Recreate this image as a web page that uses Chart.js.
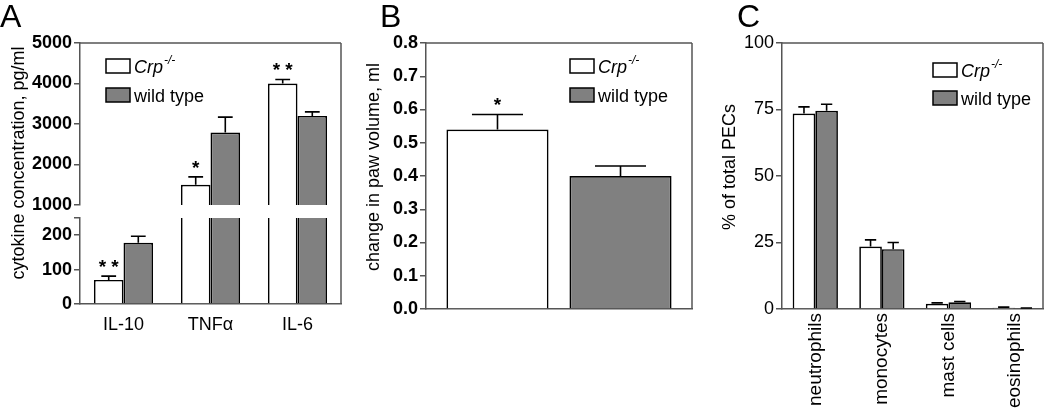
<!DOCTYPE html>
<html>
<head>
<meta charset="utf-8">
<script src="https://cdn.jsdelivr.net/npm/chart.js@4/dist/chart.umd.min.js"></script>
<style>
  body { margin: 0; background: #fff; }
  #wrap { position: relative; width: 1050px; height: 412px; overflow: hidden; background: #fff; }
  canvas { position: absolute; top: 0; }
  .letter { position: absolute; top: 0; font: 32px 'Liberation Sans', Arial, sans-serif; line-height: 1; }
</style>
</head>
<body>
<div id="wrap">
  <canvas id="aTop" width="350" height="412" style="left:0"></canvas>
  <canvas id="aLow" width="350" height="412" style="left:0"></canvas>
  <canvas id="paw" width="350" height="412" style="left:350px"></canvas>
  <canvas id="cells" width="350" height="412" style="left:700px"></canvas>
  <div class="letter" style="left:0">A</div>
  <div class="letter" style="left:380px">B</div>
  <div class="letter" style="left:737px">C</div>
</div>
<script>
// panel A - cytokines (broken axis)
const cytokines = ['IL-10', 'TNFα', 'IL-6'];
const cytoCrp = [70, 1500, 4000];
const cytoCrpErr = [11, 195, 100];
const cytoWt = [178, 2790, 3200];
const cytoWtErr = [19, 380, 100];
const cytoSig = ['**', '*', '**'];
const cytoHighTicks = [1000, 2000, 3000, 4000, 5000];
const cytoLowTicks = [0, 100, 200, 250];
const cytoLowLabels = ['0', '100', '200', ''];

// panel B - paw volume
const pawCrp = [0.54];
const pawCrpErr = [0.045];
const pawWt = [0.40];
const pawWtErr = [0.03];
const pawSig = ['*'];
const pawTicks = [0, 0.1, 0.2, 0.3, 0.4, 0.5, 0.6, 0.7, 0.8];

// panel C - peritoneal cells
const cellTypes = ['neutrophils', 'monocytes', 'mast cells', 'eosinophils'];
const cellPos = [0, 1, 2, 3];
const cellCrp = [73.5, 23.5, 2.0, 0.5];
const cellCrpErr = [2.5, 2.5, 0.3, 0.2];
const cellWt = [74.5, 22.5, 2.5, 0.3];
const cellWtErr = [2.5, 2.5, 0.3, 0.1];
const cellTicks = [0, 25, 50, 75, 100];

const genotypes = ['Crp', 'wild type'];
const genotypeSup = ['-/-', ''];
const fills = ['#ffffff', '#808080'];

const FONT = "'Liberation Sans', Arial, sans-serif";
Chart.defaults.font.family = FONT;
Chart.defaults.color = '#000';
const AXIS = '#555';

// frame, error bars, stars, legend, y title
const decor = {
  id: 'decor',
  afterDatasetsDraw(chart, args, o) {
    const { ctx, chartArea: a } = chart;
    const yScale = chart.scales.y;
    ctx.save();
    ctx.strokeStyle = AXIS;
    ctx.lineWidth = 1.5;
    ctx.beginPath();
    if (o.frameTop) { ctx.moveTo(a.left, a.top); ctx.lineTo(a.right, a.top); }
    ctx.moveTo(a.right, a.top - (o.frameExtend || 0));
    ctx.lineTo(a.right, a.bottom);
    ctx.stroke();

    ctx.beginPath();
    ctx.rect(a.left, a.top, a.right - a.left, a.bottom - a.top);
    ctx.clip();
    chart.data.datasets.forEach((ds, d) => {
      const meta = chart.getDatasetMeta(d);
      meta.data.forEach((bar, i) => {
        const v = meta.controller.getParsed(i).y;
        const yTop = yScale.getPixelForValue(v + ds.err[i]);
        const yVal = yScale.getPixelForValue(v);
        const half = bar.width / 4;
        ctx.strokeStyle = '#000';
        ctx.lineWidth = 1.6;
        ctx.beginPath();
        ctx.moveTo(bar.x, yVal);
        ctx.lineTo(bar.x, yTop);
        ctx.moveTo(bar.x - half, yTop);
        ctx.lineTo(bar.x + half, yTop);
        ctx.stroke();
        if (ds.sig && ds.sig[i]) {
          ctx.fillStyle = '#000';
          ctx.font = 'bold 19px ' + FONT;
          ctx.textAlign = 'center';
          ctx.textBaseline = 'alphabetic';
          ctx.fillText(ds.sig[i].split('').join(' '), bar.x, yTop - 3);
        }
      });
    });
    ctx.restore();
  },
  afterDraw(chart, args, o) {
    const { ctx, chartArea: a } = chart;
    ctx.save();
    if (o.legend) {
      chart.data.datasets.forEach((ds, d) => {
        const x = a.left + o.legend.x;
        const y = a.top + o.legend.y + d * o.legend.gap;
        ctx.fillStyle = ds.backgroundColor;
        ctx.fillRect(x, y, 24, 14);
        ctx.strokeStyle = '#000';
        ctx.lineWidth = 1.5;
        ctx.strokeRect(x, y, 24, 14);
        ctx.fillStyle = '#000';
        ctx.textAlign = 'left';
        ctx.textBaseline = 'alphabetic';
        ctx.font = (d === 0 ? 'italic ' : '') + '18px ' + FONT;
        ctx.fillText(ds.label, x + 28, y + 14);
        if (genotypeSup[d]) {
          const w = ctx.measureText(ds.label).width;
          ctx.font = 'italic 12px ' + FONT;
          ctx.fillText(genotypeSup[d], x + 29 + w, y + 5);
        }
      });
    }
    if (o.yTitle) {
      ctx.translate(o.yTitle.x, o.yTitle.y);
      ctx.rotate(-Math.PI / 2);
      ctx.fillStyle = '#000';
      ctx.font = '18px ' + FONT;
      ctx.textAlign = 'center';
      ctx.textBaseline = 'middle';
      ctx.fillText(o.yTitle.text, 0, 0);
    }
    ctx.restore();
  }
};

function makeSets(crp, crpErr, wt, wtErr, sig, xs) {
  const pts = vals => xs ? vals.map((v, i) => ({ x: xs[i], y: v })) : vals;
  return [
    { label: genotypes[0], data: pts(crp), err: crpErr, sig: sig, backgroundColor: fills[0] },
    { label: genotypes[1], data: pts(wt), err: wtErr, sig: [], backgroundColor: fills[1] }
  ];
}

function yAxis(ticksArr, labels, width, bold) {
  return {
    min: ticksArr[0],
    max: ticksArr[ticksArr.length - 1],
    afterBuildTicks: s => { s.ticks = ticksArr.map(v => ({ value: v })); },
    afterFit: s => { s.width = width; },
    ticks: {
      font: { size: 18, weight: bold ? 'bold' : 'normal' },
      color: '#000',
      padding: 2,
      callback: (v, i) => labels[i]
    },
    grid: { drawOnChartArea: false, tickLength: 6, color: AXIS, lineWidth: 1.5 },
    border: { color: AXIS, width: 1.5 }
  };
}

function baseOptions(padding, scales, decorOpts, pct, barPct) {
  return {
    responsive: false,
    animation: false,
    layout: { padding: padding },
    datasets: {
      bar: {
        borderColor: '#000', borderWidth: 1.7, clip: 0,
        categoryPercentage: pct, barPercentage: barPct
      }
    },
    plugins: { legend: { display: false }, tooltip: { enabled: false }, decor: decorOpts },
    scales: scales
  };
}

// A upper segment: 1000 - 5000
new Chart(document.getElementById('aTop'), {
  type: 'bar',
  data: { labels: cytokines, datasets: makeSets(cytoCrp, cytoCrpErr, cytoWt, cytoWtErr, cytoSig) },
  plugins: [decor],
  options: baseOptions(
    { left: 0, right: 9, top: 43, bottom: 207 },
    {
      x: { display: false },
      y: yAxis(cytoHighTicks, cytoHighTicks.map(String), 80, true)
    },
    {
      frameTop: true,
      legend: { x: 26, y: 16, gap: 29 },
      yTitle: { text: 'cytokine concentration, pg/ml', x: 19, y: 163 }
    },
    0.68, 1
  )
});

// A lower segment: 0 - 250
new Chart(document.getElementById('aLow'), {
  type: 'bar',
  data: { labels: cytokines, datasets: makeSets(cytoCrp, cytoCrpErr, cytoWt, cytoWtErr, cytoSig) },
  plugins: [decor],
  options: baseOptions(
    { left: 0, right: 9, top: 218, bottom: 0 },
    {
      x: {
        afterFit: s => { s.height = 108; },
        grid: { display: false, drawTicks: false },
        border: { color: AXIS, width: 1.5 },
        ticks: { font: { size: 18 }, color: '#000', padding: 10 }
      },
      y: yAxis(cytoLowTicks, cytoLowLabels, 80, true)
    },
    { frameTop: false, frameExtend: 13 },
    0.68, 1
  )
});

// B paw volume
new Chart(document.getElementById('paw'), {
  type: 'bar',
  data: { labels: [''], datasets: makeSets(pawCrp, pawCrpErr, pawWt, pawWtErr, pawSig) },
  plugins: [decor],
  options: baseOptions(
    { left: 0, right: 8, top: 43, bottom: 0 },
    {
      x: {
        afterFit: s => { s.height = 103; },
        grid: { display: false, drawTicks: false },
        border: { color: AXIS, width: 1.5 },
        ticks: { display: false }
      },
      y: yAxis(pawTicks, pawTicks.map(v => v.toFixed(1)), 76, true)
    },
    {
      frameTop: true,
      legend: { x: 144, y: 16, gap: 29 },
      yTitle: { text: 'change in paw volume, ml', x: 24, y: 167 }
    },
    0.925, 0.83
  )
});

// C cell populations
new Chart(document.getElementById('cells'), {
  type: 'bar',
  data: { datasets: makeSets(cellCrp, cellCrpErr, cellWt, cellWtErr, [], cellPos) },
  plugins: [decor],
  options: baseOptions(
    { left: 0, right: 7, top: 43, bottom: 0 },
    {
      x: {
        type: 'linear',
        min: -0.5,
        max: 3.42,
        offset: false,
        afterBuildTicks: s => { s.ticks = cellPos.map(v => ({ value: v })); },
        afterFit: s => { s.height = 103; },
        grid: { display: false, drawTicks: false },
        border: { color: AXIS, width: 1.5 },
        ticks: {
          autoSkip: false, minRotation: 90, maxRotation: 90, padding: 4,
          font: { size: 19 }, color: '#000',
          callback: (v, i) => cellTypes[i]
        }
      },
      y: yAxis(cellTicks, cellTicks.map(String), 82, false)
    },
    {
      frameTop: true,
      legend: { x: 151, y: 20, gap: 28 },
      yTitle: { text: '% of total PECs', x: 30, y: 167 }
    },
    0.68, 1
  )
});
</script>
</body>
</html>
